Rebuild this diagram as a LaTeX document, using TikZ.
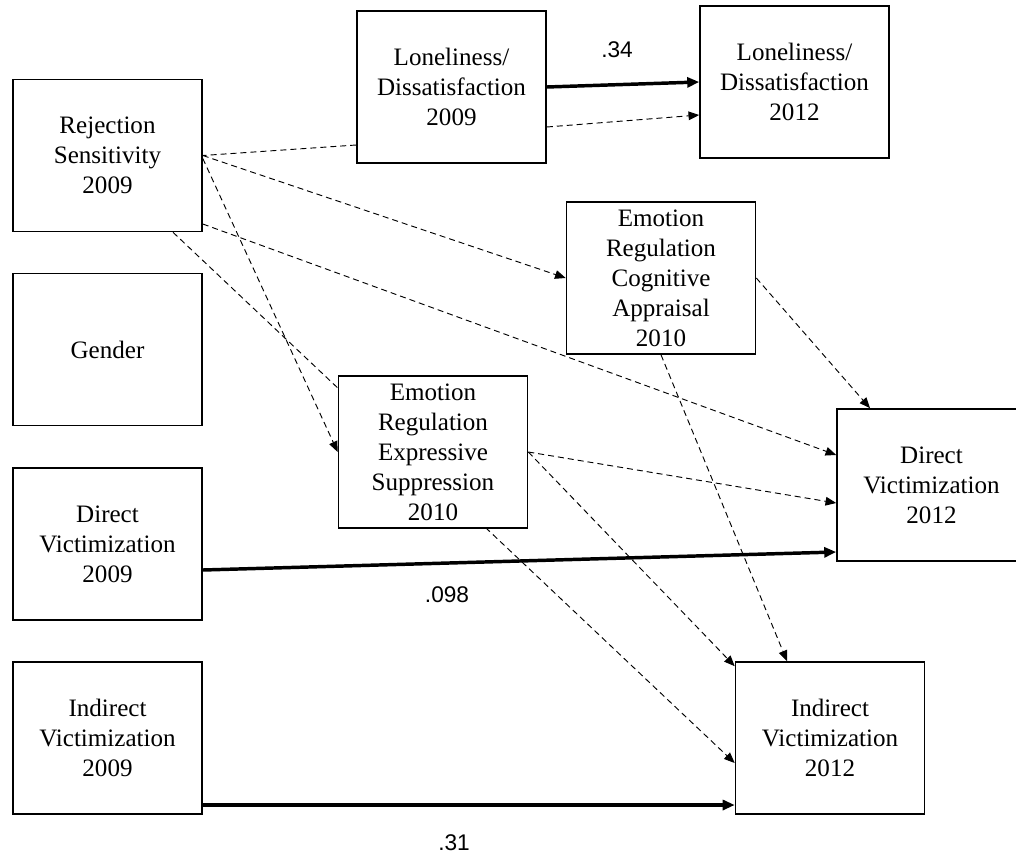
\documentclass[tikz,border=0pt]{standalone}
\usepackage{fontspec}
\setmainfont{Liberation Serif}
\newfontfamily\coeffont{Liberation Sans}
\usetikzlibrary{arrows.meta,calc,backgrounds}

\begin{document}
\begin{tikzpicture}[x=0.75pt,y=-0.75pt,
  varbox/.style={draw,line width=1.2pt,fill=white,rectangle,minimum width=141.75pt,minimum height=114pt,inner sep=0pt,align=center,font=\fontsize{18.8}{22.5}\selectfont},
  dashpath/.style={line width=0.7pt,dash pattern=on 4.5pt off 3pt,-{Triangle[length=8pt,width=6.5pt]}},
  mainpath/.style={line width=2.6pt,-{Triangle[length=9pt,width=7.5pt]}},
  coef/.style={font=\coeffont\fontsize{17}{20}\selectfont}]
  \useasboundingbox (0,0) rectangle (1016,856);

  \node[varbox] (rs) at (107.5,155.5) {Rejection\\Sensitivity\\2009};
  \node[varbox] (gender) at (107.5,349.5) {Gender};
  \node[varbox] (dv09) at (107.5,544) {Direct\\Victimization\\2009};
  \node[varbox] (iv09) at (107.5,738) {Indirect\\Victimization\\2009};
  \node[varbox] (lon09) at (451.5,87) {Loneliness/\\Dissatisfaction\\2009};
  \node[varbox] (lon12) at (794.5,82) {Loneliness/\\Dissatisfaction\\2012};
  \node[varbox] (cog) at (661,278) {Emotion\\Regulation\\Cognitive\\Appraisal\\2010};
  \node[varbox] (exp) at (433,452) {Emotion\\Regulation\\Expressive\\Suppression\\2010};
  \node[varbox] (dv12) at (931.5,485) {Direct\\Victimization\\2012};
  \node[varbox] (iv12) at (830,738) {Indirect\\Victimization\\2012};

  \node[coef] (c34) at (617,50) {.34};
  \node[coef] (c098) at (447,595) {.098};
  \node[coef] (c31) at (454,843) {.31};

  \begin{scope}[on background layer]
    \draw[mainpath] (lon09.east) -- (lon12.west);
    \draw[dashpath] ($(lon09.east)+(0,40)$) -- ($(lon12.west)+(0,33)$);
    \draw[dashpath,-] ($(lon09.west)+(0,58)$) -- (rs.east);
    \draw[dashpath] (rs.east) -- (cog.west);
    \draw[dashpath] ($(rs.east)+(0,3)$) -- (exp.west);
    \draw[dashpath] ($(rs.east)+(0,68.5)$) -- ($(dv12.west)+(0,-30)$);
    \draw[dashpath] ($(rs.south)+(65.5,0)$) -- ($(iv12.west)+(0,25)$);
    \draw[dashpath] (cog.east) -- ($(dv12.north)+(-61.5,0)$);
    \draw[dashpath] (cog.south) -- ($(iv12.north)+(-43,0)$);
    \draw[dashpath] (exp.east) -- ($(dv12.west)+(0,18)$);
    \draw[dashpath] (exp.east) -- ($(iv12.north west)+(0,5)$);
    \draw[mainpath] ($(dv09.east)+(0,26)$) -- ($(dv12.west)+(0,67)$);
    \draw[mainpath] ($(iv09.east)+(0,67)$) -- ($(iv12.west)+(0,67)$);
  \end{scope}
\end{tikzpicture}
\end{document}
